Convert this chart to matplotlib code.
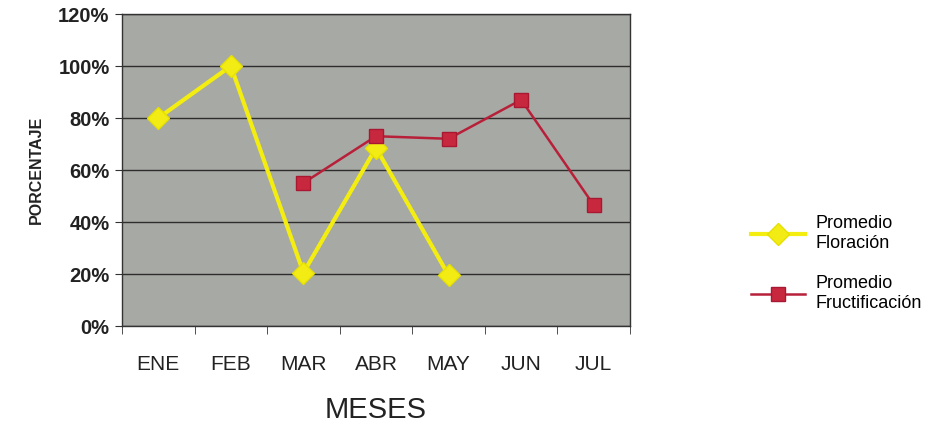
import matplotlib
matplotlib.use("Agg")
import matplotlib.pyplot as plt
import numpy as np

plt.rcParams['font.family'] = ['Liberation Sans', 'DejaVu Sans']

months = ["ENE", "FEB", "MAR", "ABR", "MAY", "JUN", "JUL"]
floracion = [80, 100, 20.5, 68.5, 19.5, np.nan, np.nan]
fructificacion = [np.nan, np.nan, 55, 73, 72, 87, 46.5]
yticks = [0, 20, 40, 60, 80, 100, 120]
ytick_labels = ["0%", "20%", "40%", "60%", "80%", "100%", "120%"]

fig = plt.figure(figsize=(9.33, 4.25), dpi=100)
ax = fig.add_axes([122/933, 1-326/425, (630-122)/933, (326-14)/425])
ax.set_facecolor("#a7a9a4")

x = np.arange(len(months))
ax.plot(x, floracion, color="#f4ee10", lw=3.0, marker="D", ms=11,
        mfc="#f2ec14", mec="#e6e000", label="Promedio\nFloración", zorder=3)
ax.plot(x, fructificacion, color="#b8203a", lw=1.8, marker="s", ms=10.5,
        mfc="#c8283e", mec="#a81830", label="Promedio\nFructificación", zorder=4)

ax.set_xlim(-0.5, len(months) - 0.5)
ax.set_ylim(0, 120)
ax.set_yticks(yticks)
ax.set_yticklabels(ytick_labels, fontsize=14.5, fontweight="bold", color="#222222")
ax.set_xticks(x)
ax.set_xticklabels(months, fontsize=15, color="#222222")
ax.set_xticks(np.arange(-0.5, len(months), 1.0), minor=True)
ax.tick_params(axis="x", which="major", length=0, pad=21)
ax.tick_params(axis="x", which="minor", length=6, direction="out", color="#333333")
ax.tick_params(axis="y", length=5, direction="out", color="#333333", pad=4)

ax.grid(axis="y", color="#2e2e2e", lw=1.0)
ax.set_axisbelow(True)
for s in ax.spines.values():
    s.set_color("#333333")
    s.set_linewidth(1.0)

ax.set_ylabel("PORCENTAJE", fontsize=11.5, fontweight="bold", color="#222222", labelpad=10)
ax.set_xlabel("MESES", fontsize=21, color="#222222", labelpad=16)

fig.legend(loc="center left", bbox_to_anchor=(0.787, 0.38), frameon=False,
           fontsize=13, handlelength=3.0, labelspacing=1.3, handletextpad=0.6)

fig.savefig("out.png", dpi=100, facecolor="white")
